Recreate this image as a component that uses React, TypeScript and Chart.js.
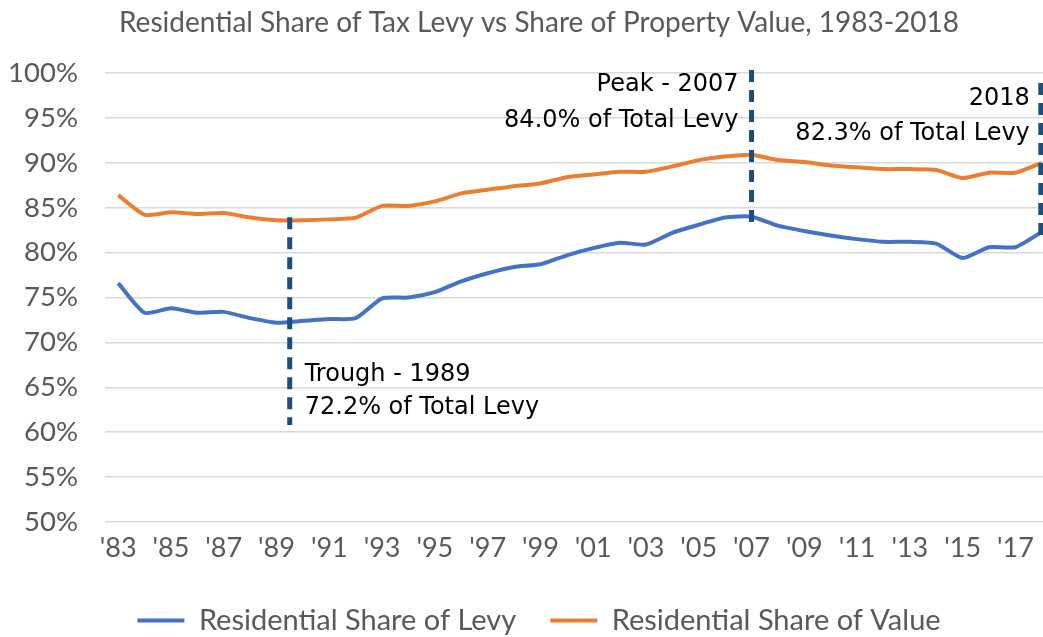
import React, { useEffect, useRef } from "react";
import { Chart, registerables } from "chart.js";

Chart.register(...registerables);

const years: string[] = [
  "'83", "'84", "'85", "'86", "'87", "'88", "'89", "'90", "'91", "'92",
  "'93", "'94", "'95", "'96", "'97", "'98", "'99", "'00", "'01", "'02",
  "'03", "'04", "'05", "'06", "'07", "'08", "'09", "'10", "'11", "'12",
  "'13", "'14", "'15", "'16", "'17", "'18",
];

const shareOfLevy: number[] = [
  76.6, 73.3, 73.8, 73.3, 73.4, 72.7, 72.2, 72.4, 72.6, 72.7,
  74.9, 75.0, 75.6, 76.8, 77.7, 78.4, 78.7, 79.7, 80.5, 81.1,
  80.9, 82.2, 83.1, 83.9, 84.0, 83.0, 82.4, 81.9, 81.5, 81.2,
  81.2, 81.0, 79.4, 80.6, 80.6, 82.3,
];

const shareOfValue: number[] = [
  86.4, 84.2, 84.5, 84.3, 84.4, 83.9, 83.6, 83.6, 83.7, 83.9,
  85.2, 85.2, 85.7, 86.6, 87.0, 87.4, 87.7, 88.4, 88.7, 89.0,
  89.0, 89.6, 90.3, 90.7, 90.9, 90.3, 90.1, 89.7, 89.5, 89.3,
  89.3, 89.2, 88.3, 88.9, 88.9, 90.0,
];

const yTicks = { min: 50, max: 100, step: 5 };

const titleText = "Residential Share of Tax Levy vs Share of Property Value, 1983-2018";
const seriesNames = ["Residential Share of Levy", "Residential Share of Value"];

const annotations = {
  trough: { index: 6, lines: ["Trough - 1989", "72.2% of Total Levy"] },
  peak: { index: 24, lines: ["Peak - 2007", "84.0% of Total Levy"] },
  last: { index: 35, lines: ["2018", "82.3% of Total Levy"] },
};

const BLUE = "#4472c4";
const ORANGE = "#ed7d31";
const NAVY = "#1f4e79";
const GREY = "#595959";
const FONT = "Lato, 'Open Sans', sans-serif";
const ANNO_FONT = "'DejaVu Sans', sans-serif";

const annotationPlugin = {
  id: "annotationLines",
  afterDatasetsDraw(chart: any) {
    const { ctx, chartArea } = chart;
    const x = chart.scales.x;
    const y = chart.scales.y;
    ctx.save();
    ctx.strokeStyle = NAVY;
    ctx.lineWidth = 5;
    ctx.setLineDash([12, 8]);
    const vline = (px: number, y1: number, y2: number) => {
      ctx.beginPath();
      ctx.moveTo(px, y1);
      ctx.lineTo(px, y2);
      ctx.stroke();
    };
    // trough
    const tx = x.getPixelForValue(annotations.trough.index + 0.5);
    vline(tx, y.getPixelForValue(shareOfValue[annotations.trough.index]) - 3, y.getPixelForValue(60.8));
    // peak
    const px = x.getPixelForValue(annotations.peak.index);
    vline(px, chartArea.top - 3, y.getPixelForValue(shareOfLevy[annotations.peak.index]) + 6);
    // last
    const lx = x.getPixelForValue(annotations.last.index) - 1;
    vline(lx, chartArea.top + 10, y.getPixelForValue(shareOfLevy[annotations.last.index]) + 6);
    ctx.setLineDash([]);

    ctx.fillStyle = "#000000";
    ctx.font = `24px ${ANNO_FONT}`;
    ctx.textBaseline = "middle";
    ctx.textAlign = "left";
    ctx.fillText(annotations.trough.lines[0], tx + 15, y.getPixelForValue(66.4));
    ctx.fillText(annotations.trough.lines[1], tx + 15, y.getPixelForValue(62.7));
    ctx.textAlign = "right";
    ctx.fillText(annotations.peak.lines[0], px - 13, chartArea.top + 12);
    ctx.fillText(annotations.peak.lines[1], px - 13, chartArea.top + 48);
    ctx.fillText(annotations.last.lines[0], lx - 11, chartArea.top + 26);
    ctx.fillText(annotations.last.lines[1], lx - 11, chartArea.top + 61);
    ctx.restore();
  },
};

export default function App() {
  const canvasRef = useRef<HTMLCanvasElement | null>(null);

  useEffect(() => {
    const canvas = canvasRef.current;
    if (!canvas) return;
    const chart = new Chart(canvas, {
      type: "line",
      data: {
        labels: years,
        datasets: [
          {
            label: seriesNames[0],
            data: shareOfLevy,
            borderColor: BLUE,
            backgroundColor: BLUE,
            borderWidth: 4,
            pointRadius: 0,
            tension: 0.2,
          },
          {
            label: seriesNames[1],
            data: shareOfValue,
            borderColor: ORANGE,
            backgroundColor: ORANGE,
            borderWidth: 4,
            pointRadius: 0,
            tension: 0.2,
          },
        ],
      },
      options: {
        animation: false,
        responsive: true,
        maintainAspectRatio: false,
        layout: { padding: { left: 0, right: 0, top: 0, bottom: -8 } },
        plugins: {
          title: {
            display: true,
            text: titleText,
            color: GREY,
            font: { family: FONT, size: 28, weight: "normal" },
            padding: { top: 6, bottom: 33.4 },
          },
          legend: {
            position: "bottom",
            labels: {
              color: GREY,
              font: { family: FONT, size: 29 },
              boxWidth: 47,
              boxHeight: 4,
              padding: 34,
              generateLabels(chart: any) {
                const items = Chart.defaults.plugins.legend.labels.generateLabels(chart);
                items.forEach((it: any) => { it.lineWidth = 0; });
                return items;
              },
            },
          },
          tooltip: { enabled: false },
        },
        scales: {
          x: {
            offset: true,
            grid: { display: false, drawTicks: false },
            border: { display: false },
            ticks: {
              color: GREY,
              font: { family: FONT, size: 27 },
              padding: 10,
              autoSkip: false,
              maxRotation: 0,
              callback: (_v: any, i: number) => (i % 2 === 0 ? years[i] : ""),
            },
            afterFit(scale: any) { scale.height = 50; },
          },
          y: {
            min: yTicks.min,
            max: yTicks.max,
            grid: { color: "#d9d9d9", lineWidth: 1.5, drawTicks: false },
            border: { display: false },
            ticks: {
              stepSize: yTicks.step,
              color: GREY,
              font: { family: FONT, size: 27.5 },
              padding: 27,
              callback: (v: any) => `${v}%`,
            },
            afterFit(scale: any) { scale.width = 105; },
          },
          y2: {
            position: "right",
            display: true,
            grid: { display: false, drawTicks: false },
            border: { display: false },
            ticks: { display: false },
            afterFit(scale: any) { scale.width = 23; },
          },
        },
      },
      plugins: [annotationPlugin],
    });
    return () => chart.destroy();
  }, []);

  return (
    <div style={{ position: "fixed", left: 0, top: 0, width: 1043, height: 637, overflow: "hidden", background: "#ffffff" }}>
      <div style={{ position: "relative", width: 1078, height: 637 }}>
        <canvas ref={canvasRef} />
      </div>
    </div>
  );
}
